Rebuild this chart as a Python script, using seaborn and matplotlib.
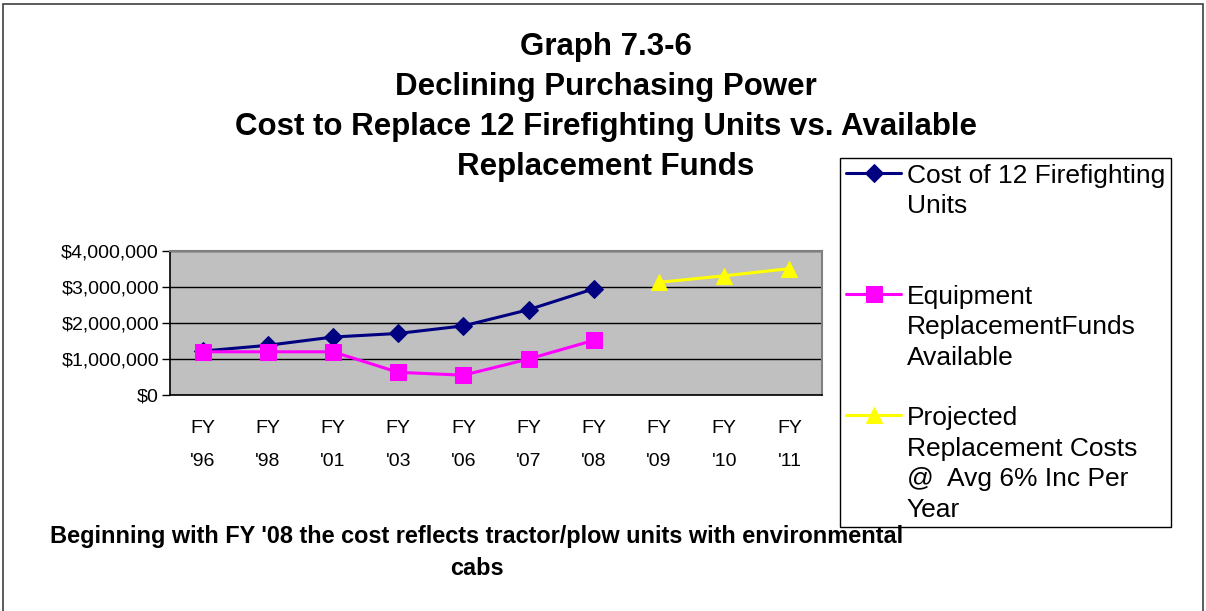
import numpy as np
import pandas as pd
import seaborn as sns
import matplotlib.pyplot as plt
from matplotlib.patches import Rectangle
from matplotlib.ticker import FuncFormatter

# categories and series
years = ["FY\n'96", "FY\n'98", "FY\n'01", "FY\n'03", "FY\n'06",
         "FY\n'07", "FY\n'08", "FY\n'09", "FY\n'10", "FY\n'11"]
cost_years = years[:7]
cost_12_units = [1220000, 1380000, 1610000, 1710000, 1920000, 2370000, 2950000]
funds_years = years[:7]
replacement_funds = [1200000, 1200000, 1200000, 630000, 550000, 1000000, 1520000]
proj_years = years[7:]
projected_costs = [3130000, 3310000, 3510000]

labels = ["Cost of 12 Firefighting\nUnits\n\n",
          "Equipment\nReplacementFunds\nAvailable\n",
          "Projected\nReplacement Costs\n@  Avg 6% Inc Per\nYear"]

sns.set_theme(style="white")
plt.rcParams['font.family'] = ['Liberation Sans', 'DejaVu Sans']
plt.rcParams.update({"text.color": "black", "axes.labelcolor": "black",
                     "xtick.color": "black", "ytick.color": "black"})

W, H = 1206, 611
fig = plt.figure(figsize=(W / 100, H / 100), dpi=100)
ax = fig.add_axes([170 / W, 1 - 395 / H, 652 / W, 144 / H])


def series_frame(xs, vals):
    return pd.DataFrame({"year": pd.Categorical(xs, categories=years, ordered=True),
                         "value": vals})


sns.lineplot(data=series_frame(cost_years, cost_12_units), x="year", y="value", ax=ax,
             color="#000080", marker="D", markersize=9, linewidth=2.2,
             markeredgecolor="#000080", label=labels[0])
sns.lineplot(data=series_frame(funds_years, replacement_funds), x="year", y="value", ax=ax,
             color="#FF00FF", marker="s", markersize=11, linewidth=2.2,
             markeredgecolor="#FF00FF", label=labels[1])
sns.lineplot(data=series_frame(proj_years, projected_costs), x="year", y="value", ax=ax,
             color="#FFFF00", marker="^", markersize=12, linewidth=2.2,
             markeredgecolor="#FFFF00", label=labels[2])

ax.set_facecolor("#C0C0C0")
ax.set_xlim(-0.5, 9.5)
ax.set_ylim(0, 4000000)
ax.set_yticks(np.arange(0, 4000001, 1000000))
ax.yaxis.set_major_formatter(FuncFormatter(lambda v, p: "${:,.0f}".format(v)))
ax.yaxis.grid(True, color="black", linewidth=1.0)
ax.set_axisbelow(True)
ax.set_xlabel("")
ax.set_ylabel("")

ax.set_xticks(range(len(years)))
ax.set_xticklabels(years, fontsize=14, linespacing=2.2)
ax.set_xticks(np.arange(-0.5, 10, 1), minor=True)
ax.tick_params(axis="x", which="major", length=0, pad=18)
ax.tick_params(axis="x", which="minor", length=6, width=1, color="black", direction="out")
ax.tick_params(axis="y", which="major", length=6, width=1, color="black",
               direction="out", labelsize=14, pad=2, left=True)

for s in ["top", "right"]:
    ax.spines[s].set_color("#808080")
    ax.spines[s].set_linewidth(1.5)
for s in ["left", "bottom"]:
    ax.spines[s].set_color("black")
    ax.spines[s].set_linewidth(1.2)

handles, _ = ax.get_legend_handles_labels()
leg = ax.legend(handles, labels, loc="upper left",
                bbox_to_anchor=(840 / W, 1 - 158 / H), bbox_transform=fig.transFigure,
                borderaxespad=0, fontsize=19, frameon=True, fancybox=False,
                edgecolor="black", framealpha=1, borderpad=0.22,
                handlelength=2.1, handletextpad=0.2, labelspacing=0.22)
leg.get_frame().set_linewidth(1.0)
for t in leg.get_texts():
    t.set_linespacing(1.34)
for col in leg._legend_handle_box.get_children():
    for item in col.get_children():
        item.align = "top"

fig.suptitle("Graph 7.3-6\nDeclining Purchasing Power\n"
             "Cost to Replace 12 Firefighting Units vs. Available\nReplacement Funds",
             x=606 / W, y=1 - 107 / H, va="center", fontsize=22.5, fontweight="bold",
             linespacing=1.44)

fig.text(477 / W, 1 - 552.5 / H,
         "Beginning with FY '08 the cost reflects tractor/plow units with environmental\ncabs",
         ha="center", va="center", fontsize=16.9, fontweight="bold", linespacing=1.5)

fig.patches.append(Rectangle((3 / W, -0.05), 1200 / W, 1.05 - 4 / H,
                             transform=fig.transFigure, fill=False,
                             edgecolor="#404040", linewidth=1.2))

fig.savefig("out.png", dpi=100)
